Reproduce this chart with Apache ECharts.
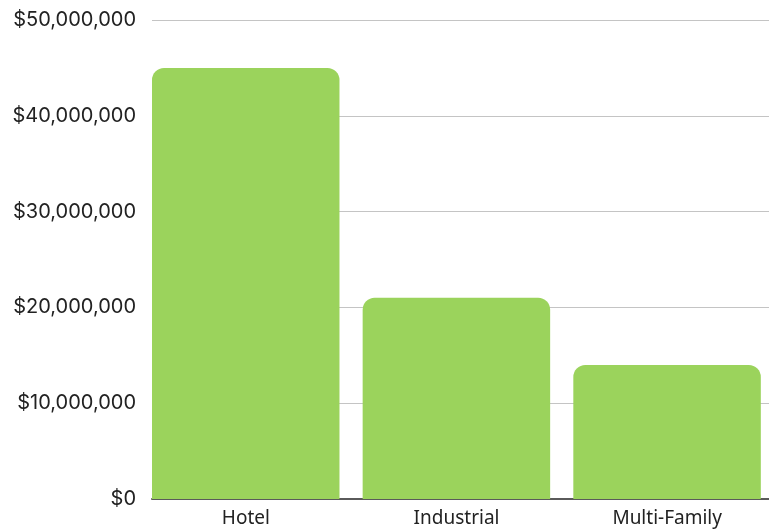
<!DOCTYPE html>
<html>
<head>
<meta charset="utf-8">
<script src="https://cdn.jsdelivr.net/npm/echarts@6/dist/echarts.min.js"></script>
<style>
  html, body { margin: 0; padding: 0; background: #ffffff; overflow: hidden; }
  #chart { width: 784px; height: 531px; }
</style>
</head>
<body>
<div id="chart"></div>
<script>
// Investment volume by property type
const categories = ['Hotel', 'Industrial', 'Multi-Family'];
const volumes = [45000000, 21000000, 14000000];
const yTicks = { min: 0, max: 50000000, interval: 10000000 };

// empty companion series keeps a gap after each bar inside its band
const spacer = categories.map(() => null);

function money(v) {
  return '$' + Math.round(v).toLocaleString('en-US');
}

const chart = echarts.init(document.getElementById('chart'), null, { renderer: 'canvas' });

chart.setOption({
  animation: false,
  backgroundColor: '#ffffff',
  grid: { left: 152, top: 20, right: 0, height: 479, containLabel: false },
  xAxis: {
    type: 'category',
    data: categories,
    boundaryGap: true,
    axisLine: { show: true, lineStyle: { color: '#5a5a5a', width: 2 } },
    axisTick: { show: false },
    axisLabel: {
      color: '#222222',
      fontFamily: 'Noto Sans',
      fontSize: 19,
      margin: 10,
      padding: [0, 23, 0, 0]
    },
    splitLine: { show: false }
  },
  yAxis: {
    type: 'value',
    min: yTicks.min,
    max: yTicks.max,
    interval: yTicks.interval,
    axisLine: { show: false },
    axisTick: { show: false },
    axisLabel: {
      color: '#222222',
      fontFamily: 'Inter',
      fontSize: 20,
      margin: 16,
      formatter: money
    },
    splitLine: { show: true, lineStyle: { color: '#c4c4c4', width: 1 } }
  },
  series: [
    {
      name: 'Volume',
      type: 'bar',
      data: volumes,
      barWidth: 187.5,
      barGap: '0%',
      barCategoryGap: '0%',
      itemStyle: { color: '#9bd35c', borderRadius: [12, 12, 0, 0] }
    },
    {
      name: 'gap',
      type: 'bar',
      data: spacer,
      barWidth: 23.2,
      barGap: '0%',
      barCategoryGap: '0%',
      silent: true,
      itemStyle: { color: 'transparent' }
    }
  ]
});
</script>
</body>
</html>
